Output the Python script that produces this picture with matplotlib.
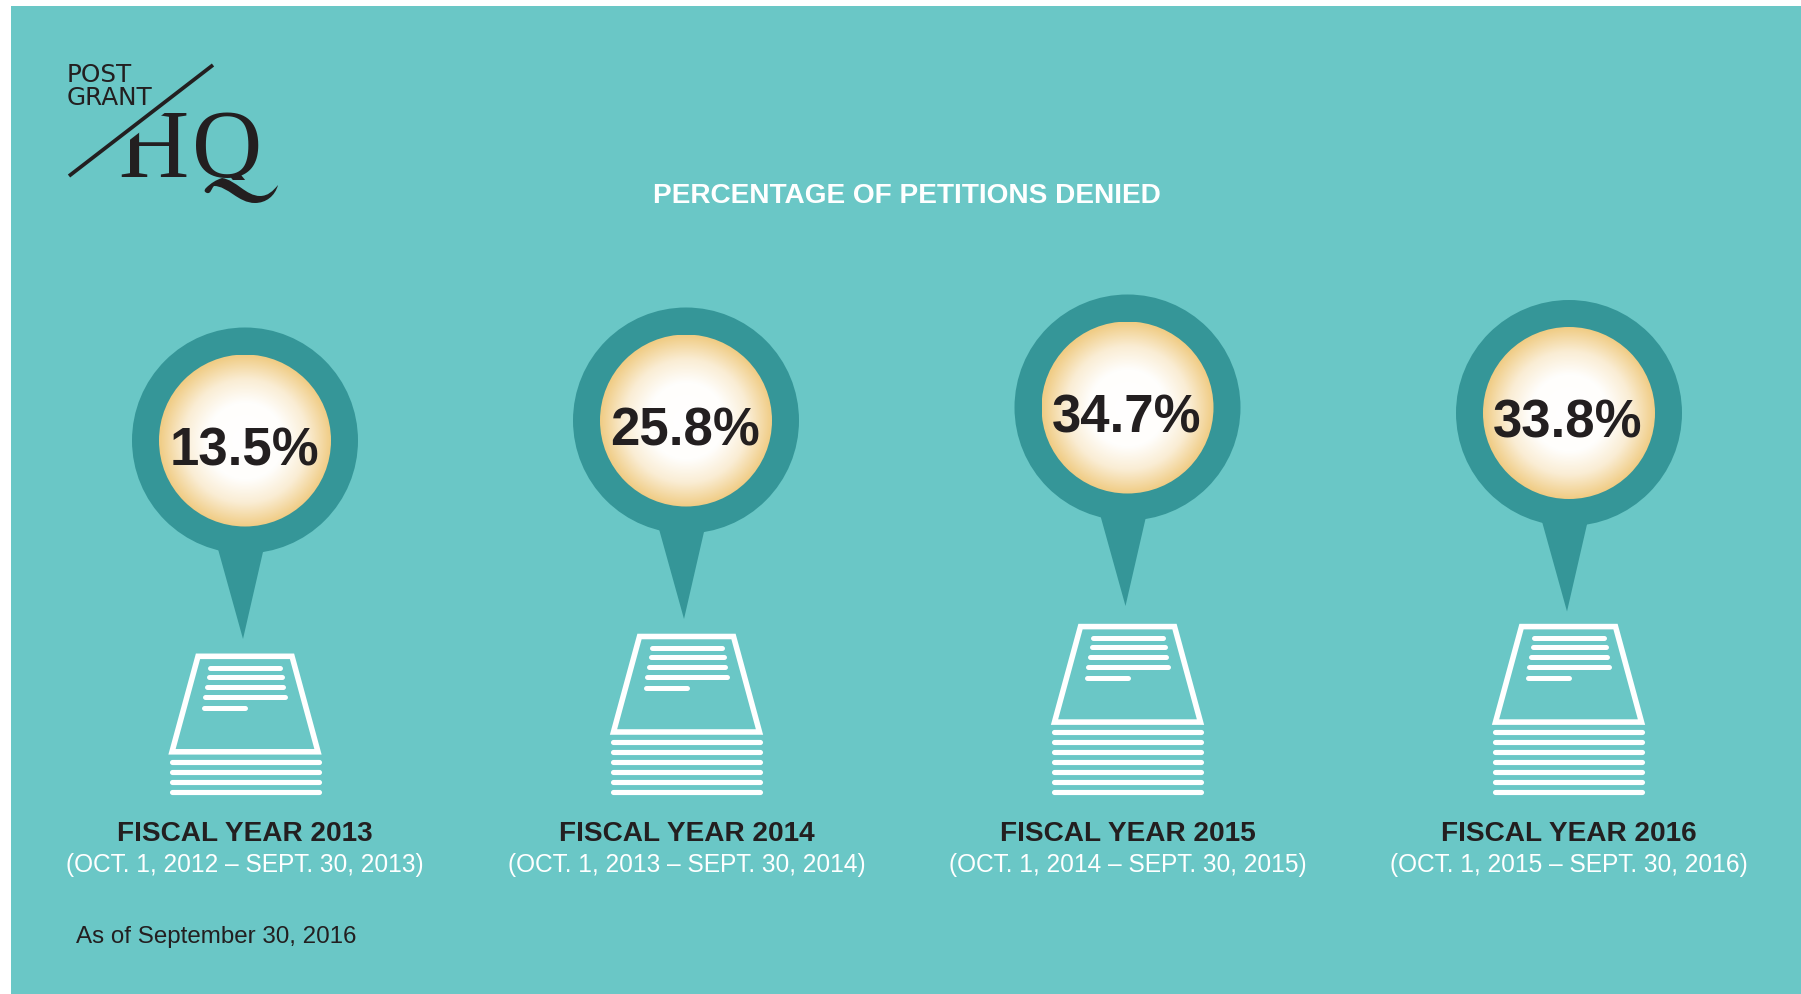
#!/usr/bin/env python
import numpy as np
import matplotlib
matplotlib.use('Agg')
import matplotlib.pyplot as plt
from matplotlib.colors import LinearSegmentedColormap
from matplotlib.patches import Circle, Polygon, Rectangle, PathPatch
from matplotlib.path import Path

# chart values
years = ['FISCAL YEAR 2013', 'FISCAL YEAR 2014', 'FISCAL YEAR 2015', 'FISCAL YEAR 2016']
periods = ['(OCT. 1, 2012 \u2013 SEPT. 30, 2013)', '(OCT. 1, 2013 \u2013 SEPT. 30, 2014)',
           '(OCT. 1, 2014 \u2013 SEPT. 30, 2015)', '(OCT. 1, 2015 \u2013 SEPT. 30, 2016)']
denied = [13.5, 25.8, 34.7, 33.8]
sheets = [4, 6, 7, 7]

# layout, in reference pixels
pin_x = [245, 686, 1127.5, 1569]
pin_y = [441.5, 421.5, 408.5, 414]
stack_x = [245, 686.5, 1127.5, 1568.5]

BG = '#6AC7C6'
TEAL = '#359698'
DARK = '#231F20'
SANS = 'Liberation Sans'

fig = plt.figure(figsize=(18.01, 9.95), dpi=100, facecolor='white')
ax = fig.add_axes([0, 0, 1, 1])
ax.set_xlim(0, 1801)
ax.set_ylim(995, 0)
ax.axis('off')

ax.add_patch(Rectangle((11, 7), 1790, 988, fc=BG, ec='none', zorder=0))

glow = LinearSegmentedColormap.from_list('glow', [(0, '#FFFFFF'), (0.45, '#FFFEFC'), (0.72, '#FAEDD4'), (1, '#F0CC84')])
yy, xx = np.mgrid[-1:1:300j, -1:1:300j]
radius = np.clip(np.sqrt(xx ** 2 + yy ** 2), 0, 1)


def draw_pin(cx, cy, value):
    ax.add_patch(Circle((cx, cy), 113, fc=TEAL, ec='none', zorder=2))
    ax.add_patch(Polygon([(cx - 28, cy + 105), (cx + 19, cy + 107), (cx - 2, cy + 198.5)],
                         fc=TEAL, ec='none', zorder=2))
    im = ax.imshow(radius, cmap=glow, vmin=0, vmax=1, extent=(cx - 86, cx + 86, cy + 86, cy - 86),
                   interpolation='bilinear', zorder=3, aspect='auto')
    im.set_clip_path(Circle((cx, cy), 86, transform=ax.transData))
    ax.text(cx - 1, cy + 24, '%.1f%%' % value, ha='center', va='baseline', color=DARK,
            family=SANS, weight='bold', fontsize=38, zorder=4)


def draw_stack(cx, n):
    first = 792.5 - (n - 1) * 9.9
    top = first - 108
    ax.add_patch(Polygon([(cx - 47, top + 2.5), (cx + 47, top + 2.5), (cx + 73, top + 98), (cx - 73, top + 98)],
                         closed=True, fill=False, ec='white', lw=4, joinstyle='miter', zorder=2))
    rows = [(14, -37, 37), (23, -38, 39), (33, -40, 40), (43, -42, 42), (54, -43, 2)]
    for dy, x0, x1 in rows:
        ax.plot([cx + x0 + 2, cx + x1 - 2], [top + dy, top + dy], color='white', lw=3.6,
                solid_capstyle='round', zorder=2)
    for i in range(n):
        y = first + i * 9.9
        ax.plot([cx - 73.5, cx + 73.5], [y, y], color='white', lw=3.7, solid_capstyle='round', zorder=2)


for i in range(len(denied)):
    draw_pin(pin_x[i], pin_y[i], denied[i])
    draw_stack(stack_x[i], sheets[i])
    ax.text(stack_x[i], 841, years[i], ha='center', va='baseline', color=DARK, family=SANS,
            weight='bold', fontsize=20.2)
    ax.text(stack_x[i], 872, periods[i], ha='center', va='baseline', color='white', family=SANS, fontsize=17.65)

ax.text(907, 203, 'PERCENTAGE OF PETITIONS DENIED', ha='center', va='baseline', color='white',
        family=SANS, weight='bold', fontsize=20.15)
ax.text(76, 943, 'As of September 30, 2016', ha='left', va='baseline', color=DARK, family=SANS, fontsize=17.4)

# logo
ax.text(118, 177, 'H', ha='left', va='baseline', color=DARK, family='Liberation Serif', fontsize=70, zorder=5)
ax.text(192, 177, 'Q', ha='left', va='baseline', color=DARK, family='Liberation Serif', fontsize=70, zorder=5)
ax.add_patch(Polygon([(105, 160), (175, 106), (105, 106)], fc=BG, ec='none', zorder=6))
ax.add_patch(Rectangle((186, 180.5), 100, 35, fc=BG, ec='none', zorder=6))
swash = Path([(206, 189), (211, 184), (216, 181), (222, 179),
              (236, 181), (246, 197), (260, 197),
              (268, 197), (273, 192), (278, 186),
              (275, 197), (266, 204), (255, 204),
              (238, 204), (228, 187), (214, 187),
              (211, 190), (211, 195), (207, 194),
              (204, 193), (204, 191), (206, 189)],
             [Path.MOVETO] + [Path.CURVE4] * 21)
ax.add_patch(PathPatch(swash, fc=DARK, ec='none', zorder=7))
ax.plot([69, 213], [177, 66], color=DARK, lw=2.7, solid_capstyle='butt', zorder=7)
ax.text(67, 82, 'POST', ha='left', va='baseline', color=DARK, family='DejaVu Sans', fontsize=17.8, zorder=7)
ax.text(67, 105, 'GRANT', ha='left', va='baseline', color=DARK, family='DejaVu Sans', fontsize=17.8, zorder=7)

ax.set_xlim(0, 1801)
ax.set_ylim(995, 0)
fig.savefig('out.png', dpi=100, facecolor='white')
